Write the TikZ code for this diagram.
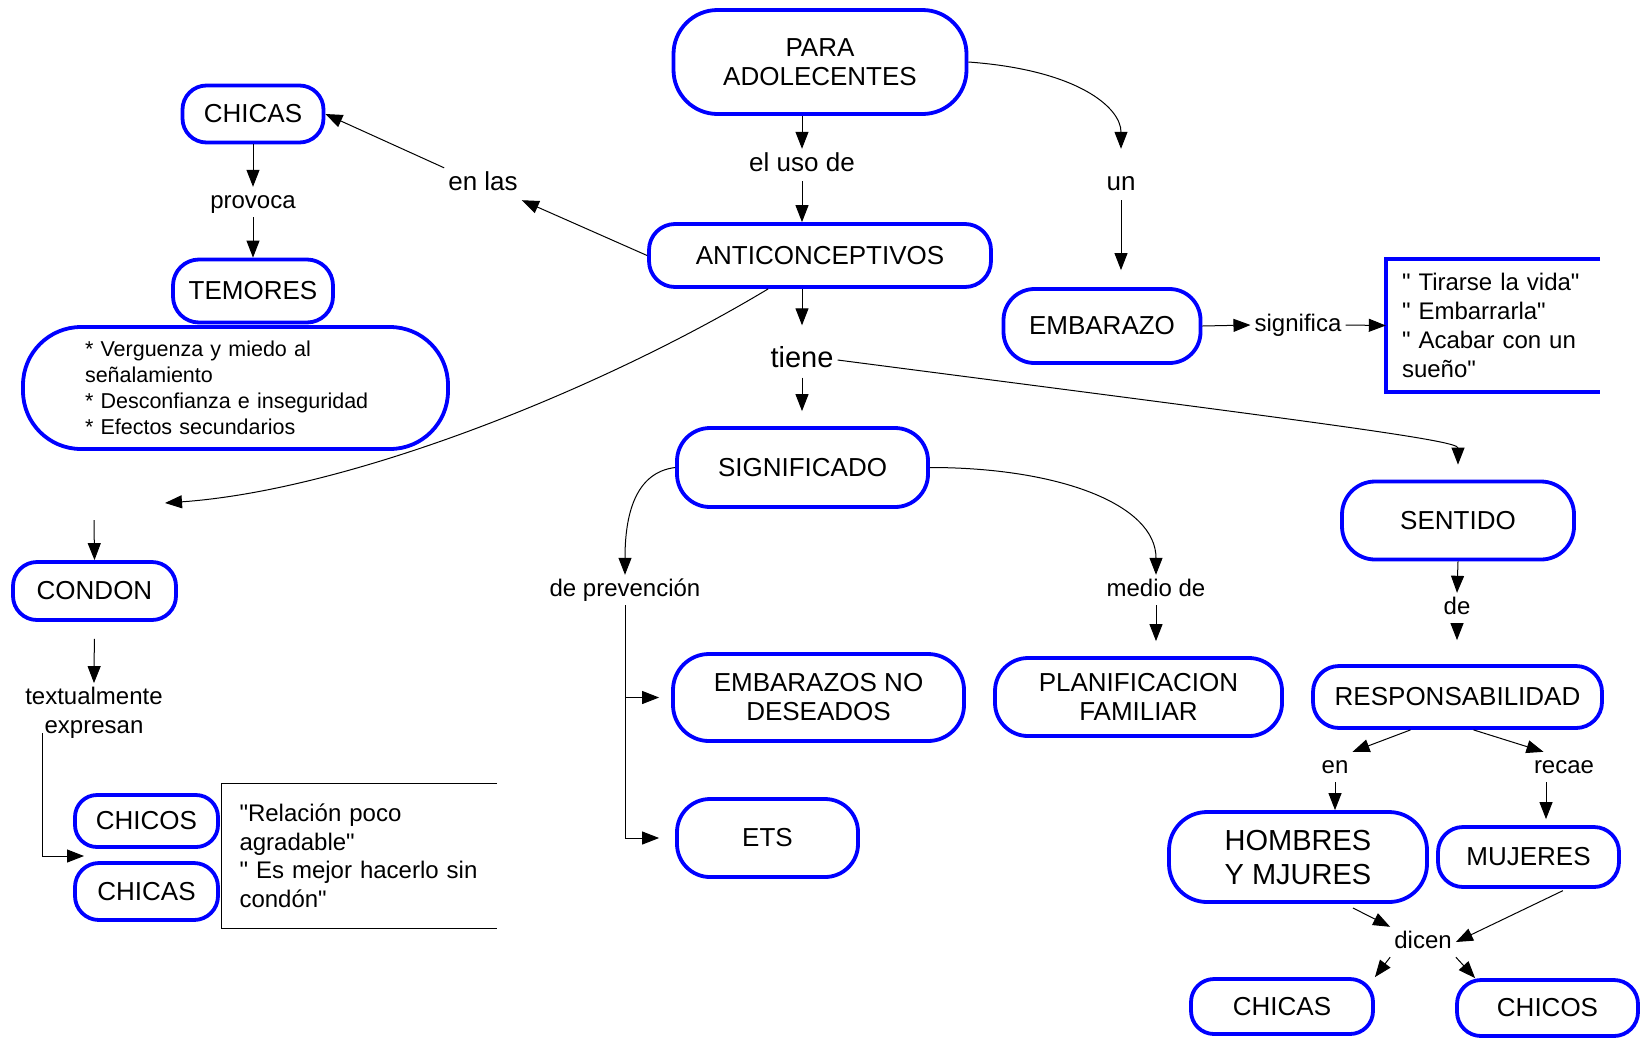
\documentclass[tikz,border=0pt]{standalone}
\usepackage{fontspec}
\setmainfont{Liberation Sans}[Ligatures=TeXOff]
\usetikzlibrary{arrows.meta,calc}
\newcommand{\qq}{\symbol{34}}
\tikzset{
  concept/.style n args={3}{draw=blue, line width=3.8pt, rounded corners=#3,
    minimum width=#1, minimum height=#2, inner sep=0pt, align=center,
    font=\fontsize{26}{29}\selectfont},
  lbl/.style={inner sep=4pt, font=\fontsize{24}{29}\selectfont, text height=17pt, text depth=5pt},
  lblb/.style={inner sep=4pt, font=\fontsize{26}{30}\selectfont, text height=18.5pt, text depth=5.5pt},
  arr/.style={line width=1pt, -{Triangle[length=17pt,width=13pt]}},
  framebox/.style={inner ysep=0pt, align=left, font=\fontsize{24}{28.5}\selectfont},
}
\begin{document}
\begin{tikzpicture}[x=1pt,y=-1pt]
\fill[white] (0,0) rectangle (1640,1037);
\useasboundingbox (0,0) rectangle (1640,1037);

% concepts
\node[concept={293pt}{104pt}{44pt}] (para) at (820,62) {PARA\\ADOLECENTES};
\node[concept={141pt}{57pt}{24pt}] (chicasT) at (253,114) {CHICAS};
\node[concept={160pt}{63pt}{26pt}] (temores) at (253,291) {TEMORES};
\node[draw=blue, line width=3.8pt, rounded corners=58pt, minimum width=425pt,
  minimum height=122pt, inner xsep=62pt, inner ysep=0pt, text width=301pt, align=left,
  font=\fontsize{21.5}{26}\selectfont] (temlist) at (235.5,388)
  {{*} Verguenza y miedo al\\se\~nalamiento\\{*} Desconfianza e inseguridad\\{*} Efectos secundarios};
\node[concept={342pt}{63pt}{26pt}] (anti) at (820,255.5) {ANTICONCEPTIVOS};
\node[concept={197pt}{74pt}{31pt}] (emb) at (1102,326) {EMBARAZO};
\node[concept={251pt}{79pt}{33pt}] (signif) at (802.5,467.5) {SIGNIFICADO};
\node[concept={232pt}{78pt}{33pt}] (sentido) at (1458,520.5) {SENTIDO};
\node[concept={289pt}{62pt}{26pt}] (resp) at (1457.5,697) {RESPONSABILIDAD};
\node[concept={258pt}{90pt}{38pt}, font=\fontsize{29}{34}\selectfont] (hombres) at (1298,857) {HOMBRES\\Y MJURES};
\node[concept={181pt}{60pt}{25pt}] (mujeres) at (1528.5,857) {MUJERES};
\node[concept={182pt}{55pt}{23pt}] (chicasB) at (1282,1006.5) {CHICAS};
\node[concept={181pt}{56pt}{24pt}] (chicosB) at (1547.5,1008) {CHICOS};
\node[concept={291pt}{87pt}{36pt}] (embnd) at (818.5,697.5) {EMBARAZOS NO\\DESEADOS};
\node[concept={287pt}{78pt}{33pt}] (planif) at (1138.5,697) {PLANIFICACION\\FAMILIAR};
\node[concept={181pt}{78pt}{33pt}] (ets) at (767.5,838) {ETS};
\node[concept={163pt}{58pt}{24pt}] (condon) at (94.5,591) {CONDON};
\node[concept={143pt}{52pt}{22pt}] (chicosL) at (146.5,821) {CHICOS};
\node[concept={143pt}{57pt}{24pt}] (chicasL) at (146.5,891.5) {CHICAS};

% open boxes
\node[framebox, inner xsep=16pt, text width=182pt, minimum height=133pt, font=\fontsize{24}{29}\selectfont] (qbox) at (1493,325.5)
  {\qq{} Tirarse la vida\qq\\\qq{} Embarrarla\qq\\\qq{} Acabar con un\\sue\~no\qq};
\draw[blue, line width=3.8pt] (qbox.north east) -- (qbox.north west) -- (qbox.south west) -- (qbox.south east);
\node[framebox, inner xsep=17.5pt, text width=240pt, minimum height=144pt] (relbox) at (359.5,856)
  {\qq Relaci\'on poco\\agradable\qq\\\qq{} Es mejor hacerlo sin\\cond\'on\qq};
\draw[line width=1pt] (relbox.north east) -- (relbox.north west) -- (relbox.south west) -- (relbox.south east);

% linking phrases
\node[lblb] (eluso) at (802,165) {el uso de};
\node[lblb] (un) at (1121,184) {un};
\node[lblb] (enlas) at (483,184) {en las};
\node[inner sep=4pt, font=\fontsize{29}{34}\selectfont, text height=21pt, text depth=6pt] (tiene) at (802,360) {tiene};
\node[lbl] (provoca) at (253,202) {provoca};
\node[lbl] (significa) at (1298,325) {significa};
\node[lbl] (deprev) at (625,590) {de prevenci\'on};
\node[lbl] (mediode) at (1156,590) {medio de};
\node[lbl] (deR) at (1457,608) {de};
\node[lbl] (enR) at (1335,767) {en};
\node[lbl] (recae) at (1564,767) {recae};
\node[lbl] (dicen) at (1423,942) {dicen};
\node[align=center, inner sep=4pt, font=\fontsize{24}{29}\selectfont] (textual) at (94,713) {textualmente\\expresan};

% free ends
\coordinate (cend) at (165,503);
\coordinate (cin) at (94,520);
\coordinate (tx) at (42,733);
\coordinate (gapL) at (84,856);
\coordinate (rc) at ($(recae.south)+(-18,0)$);

% connectors
\draw[arr] (chicasT.south) -- (provoca.north);
\draw[arr] (provoca.south) -- (temores.north);
\draw[arr] (anti.west) -- (enlas.south east);
\draw[arr] (enlas.north west) -- (chicasT.east);
\draw[arr] (para.south -| eluso.north) -- (eluso.north);
\draw[arr] (eluso.south) -- (eluso.south |- anti.north);
\draw[arr, shorten >=19pt] (para.east) .. controls +(110,8) and +(0,-60) .. (un.north);
\draw[arr, shorten >=17pt] (un.south) -- (un.south |- emb.north);
\draw[arr, shorten >=17pt] (tiene.north |- anti.south) -- (tiene.north);
\draw[arr, shorten >=15pt] (tiene.south) -- (tiene.south |- signif.north);
\draw[arr, shorten >=15pt] (tiene.east) .. controls (1300,420) and (1458,440) .. (sentido.north);
\draw[arr] ($(anti.south)!0.3!(anti.south west)$) .. controls (600,390) and (350,490) .. (cend);
\draw[arr] (cin) -- (condon.north);
\draw[arr, shorten <=17pt] (condon.south) -- (textual.north);
\draw[arr] (tx) |- (gapL);
\draw[arr] (emb.east) -- (significa.west);
\draw[arr] (significa.east) -- (qbox.west);
\draw[arr] (signif.west) .. controls +(-40,5) and +(0,-60) .. (deprev.north);
\draw[arr] (signif.east) .. controls +(130,0) and +(0,-70) .. (mediode.north);
\draw[arr, shorten >=16pt] (deprev.south) |- (ets.west);
\draw[arr, shorten >=12pt] (deprev.south |- embnd.west) -- (embnd.west);
\draw[arr, shorten >=15pt] (mediode.south) -- (mediode.south |- planif.north);
\draw[arr] (sentido.south) -- (deR.north);
\draw[arr, shorten >=24pt] (deR.south) -- (deR.south |- resp.north);
\draw[arr] (resp.215) -- (enR.north east);
\draw[arr] (resp.296) -- ($(recae.north)!0.6!(recae.north west)$);
\draw[arr] (enR.south) -- (enR.south |- hombres.north);
\draw[arr, shorten >=6pt] (rc) -- (rc |- mujeres.north);
\draw[arr, shorten <=9pt] (hombres.-45) -- (dicen.north west);
\draw[arr, shorten <=4pt] (mujeres.-40) -- (dicen.east);
\draw[arr] (dicen.south west) -- (chicasB.north east);
\draw[arr] (dicen.south east) -- ($(chicosB.north west)+(20,0)$);
\end{tikzpicture}
\end{document}
